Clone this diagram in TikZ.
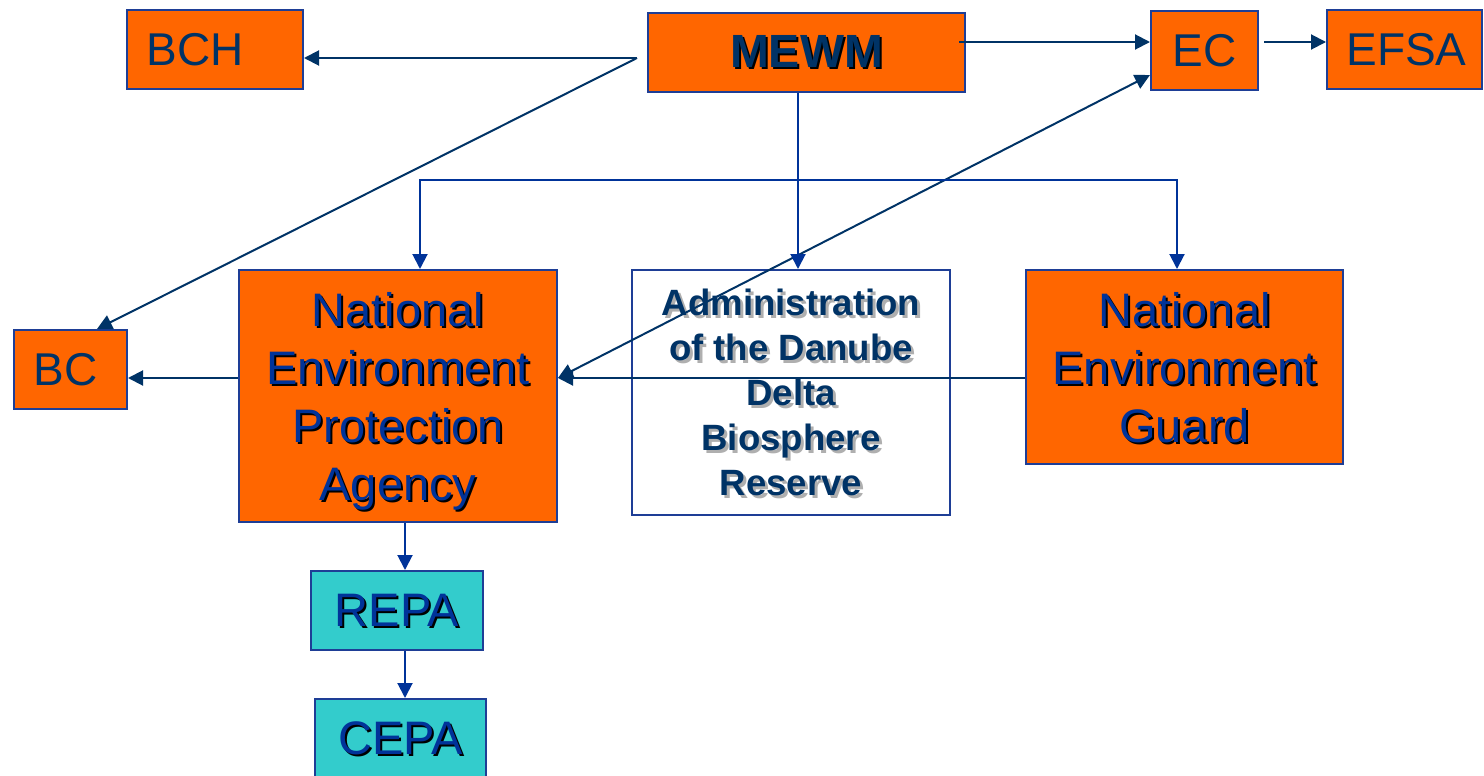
\documentclass[tikz,border=0pt]{standalone}
\usepackage{fontspec}
\setmainfont{Liberation Sans}
\usetikzlibrary{arrows.meta}

\definecolor{boxorange}{RGB}{255,102,0}
\definecolor{boxteal}{RGB}{51,204,204}
\definecolor{edgeblue}{RGB}{30,62,150}
\definecolor{navy}{RGB}{0,51,102}
\definecolor{royal}{RGB}{0,51,153}
\definecolor{haze}{RGB}{175,175,175}

% text with a drop shadow (black, or light grey for the bold caption)
\newcommand\shd[1]{\rlap{\kern1pt\raisebox{-1pt}{\textcolor{black}{#1}}}#1}
\newcommand\shdg[1]{\rlap{\kern1.5pt\raisebox{-1.5pt}{\textcolor{haze}{#1}}}#1}

\begin{document}
\begin{tikzpicture}[x=0.5pt,y=-0.5pt,
  orgbox/.style={draw=edgeblue, line width=1pt, fill=boxorange, inner sep=0pt, minimum height=39.5pt},
  bigtxt/.style={font=\fontsize{23.5}{29}\selectfont, text=royal, align=center, text depth=0pt},
  admtxt/.style={font=\bfseries\fontsize{18.3}{22.5}\selectfont, text=navy, align=center, text depth=0pt},
  flattxt/.style={font=\fontsize{23}{28}\selectfont, text=navy, inner sep=0pt},
  conN/.style={draw=navy, line width=1pt},
  conB/.style={draw=royal, line width=1pt},
  arrN/.style={conN, -{Triangle[length=7.5pt,width=7.5pt]}},
  arrB/.style={conB, -{Triangle[length=7.5pt,width=7.5pt]}},
  twoway/.style={conN, {Triangle[length=7.5pt,width=7.5pt]}-{Triangle[length=7.5pt,width=7.5pt]}}
]
\useasboundingbox (0,0) rectangle (1484,776);

% ---- top row
\node[orgbox, minimum width=88pt] (bch) at (215,49.5) {};
\node[flattxt, anchor=west] (bch-t) at ([xshift=10pt]bch.west) {BCH};

\node[orgbox, minimum width=158.5pt, font=\bfseries\fontsize{23.3}{28}\selectfont, text=navy] (mewm) at (806.5,52.5) {\shd{MEWM}};

\node[orgbox, flattxt, minimum width=53.5pt, minimum height=39.5pt] (ec) at (1204.5,50.5) {EC};

\node[orgbox, minimum width=77.5pt] (efsa) at (1404.5,49.5) {};
\node[flattxt, anchor=west] (efsa-t) at ([xshift=10pt]efsa.west) {EFSA};

% ---- middle row
\node[orgbox, minimum width=56.5pt] (bc) at (70.5,369.5) {};
\node[flattxt, anchor=west] (bc-t) at ([xshift=10pt]bc.west) {BC};

\node[orgbox, bigtxt, minimum width=159pt, minimum height=126pt] (nepa) at (398,396)
  {\shd{National}\\\shd{Environment}\\\shd{Protection}\\\shd{Agency}};

\node[orgbox, fill=white, admtxt, minimum width=159pt, minimum height=122.5pt] (addbr) at (791,392.5)
  {\shdg{Administration}\\\shdg{of the Danube}\\\shdg{Delta}\\\shdg{Biosphere}\\\shdg{Reserve}};

\node[orgbox, bigtxt, minimum width=158.5pt, minimum height=97pt] (neg) at (1184.5,367)
  {\shd{National}\\\shd{Environment}\\\shd{Guard}};

% ---- lower chain
\node[orgbox, bigtxt, fill=boxteal, minimum width=86pt, minimum height=39.5pt] (repa) at (397,610.5) {\shd{REPA}};
\node[orgbox, bigtxt, fill=boxteal, minimum width=85.5pt, minimum height=39.5pt] (cepa) at (400.5,738.5) {\shd{CEPA}};

% ---- connectors
\coordinate (mw) at ([shift={(-5pt,-2.75pt)}]mewm.west);
\draw[arrN] (mw) -- (mw -| bch.east);
\draw[arrN] (mw) -- ([xshift=13.25pt]bc.north);

\coordinate (ec-in) at ([yshift=4.25pt]ec.west);
\draw[arrN] ([xshift=-3.5pt]mewm.east |- ec-in) -- (ec-in);
\draw[arrN] ([xshift=2.5pt]ec.east |- ec-in) -- (efsa.west |- ec-in);

\coordinate (nepa-in) at ([yshift=9pt]nepa.east);
\draw[twoway] (nepa-in) -- ([yshift=-12.25pt]ec.west);
\draw[arrN] (neg.west |- nepa-in) -- (nepa-in);
\draw[arrN] (nepa.west |- nepa-in) -- (bc.east |- nepa-in);

\coordinate (drop) at ([xshift=-4.25pt]mewm.south);
\draw[arrB] (drop) -- (drop |- addbr.north);
\coordinate (split) at (798,180);
\draw[arrB] (split) -| ([xshift=11pt]nepa.north);
\draw[arrB] (split) -| ([xshift=-3.75pt]neg.north);

\draw[arrB] ([xshift=3.5pt]nepa.south) -- ([xshift=3.5pt]nepa.south |- repa.north);
\draw[arrB] ([xshift=4pt]repa.south) -- ([xshift=4pt]repa.south |- cepa.north);
\end{tikzpicture}
\end{document}
